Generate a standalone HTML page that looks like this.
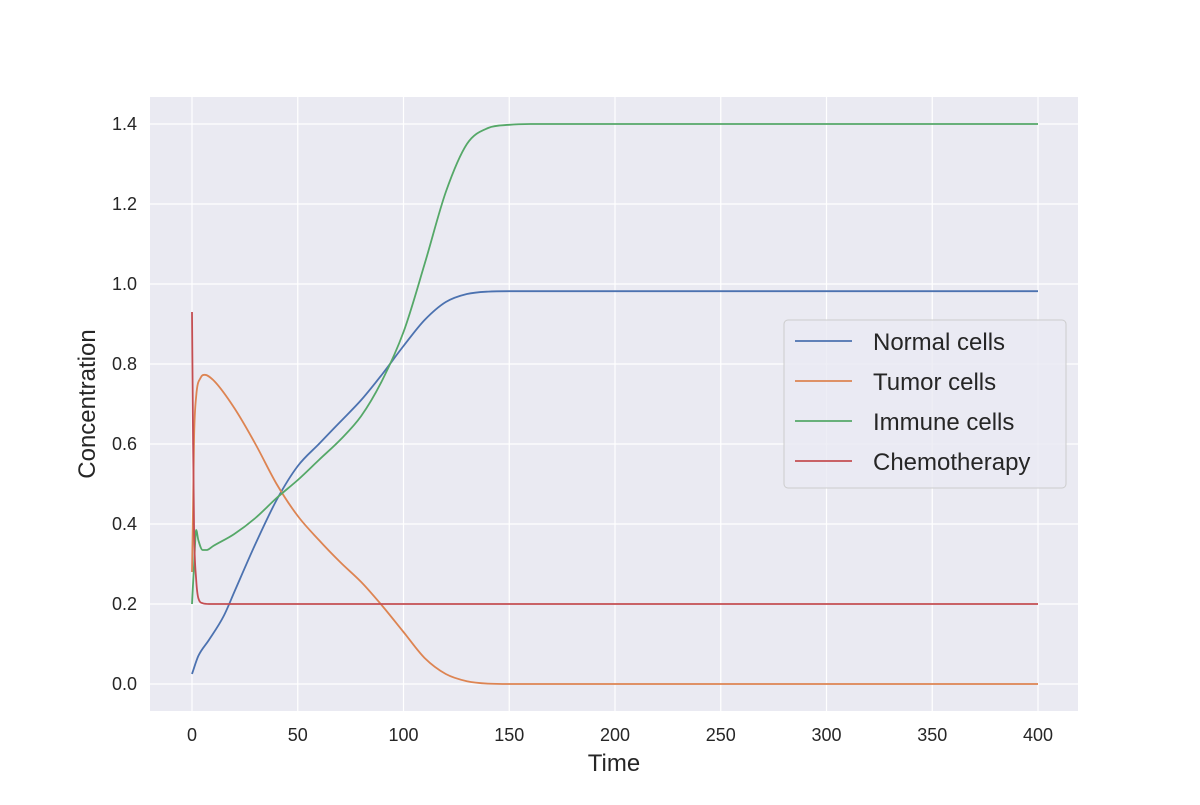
<!DOCTYPE html>
<html><head><meta charset="utf-8"><style>
body{margin:0;background:#fff}
text{font-family:"Liberation Sans","DejaVu Sans",sans-serif;fill:#262626}
</style></head><body>
<svg id="chart" width="1200" height="800">
<rect x="150" y="97" width="928" height="614" fill="#eaeaf2"/>
<g id="grid"></g><g id="series"></g><g id="ticks"></g>
<text x="614" y="771" font-size="24" text-anchor="middle">Time</text>
<text transform="translate(95,404) rotate(-90)" font-size="24" text-anchor="middle">Concentration</text>
<g>
<rect x="784" y="320" width="282" height="168" rx="4" fill="#eaeaf2" fill-opacity="0.8" stroke="#cccccc"/>
<g id="legend"></g>
</g>
</svg>
<script>
const xTicks=[0,50,100,150,200,250,300,350,400];
const yTicks=[0.0,0.2,0.4,0.6,0.8,1.0,1.2,1.4];
const names=["Normal cells","Tumor cells","Immune cells","Chemotherapy"];
const colors=["#4c72b0","#dd8452","#55a868","#c44e52"];
const normalT=[0,3,8,15,20,30,40,50,60,70,80,90,100,110,120,130,140,150,400];
const normalV=[0.025,0.07,0.11,0.17,0.23,0.35,0.46,0.545,0.60,0.655,0.71,0.775,0.845,0.91,0.955,0.975,0.981,0.982,0.982];
const tumorT=[0,0.5,1,2,4,6,10,20,30,40,50,60,70,80,90,100,110,120,130,140,150,400];
const tumorV=[0.28,0.45,0.62,0.72,0.765,0.773,0.76,0.69,0.60,0.50,0.42,0.36,0.305,0.255,0.195,0.13,0.065,0.025,0.007,0.001,0,0];
const immuneT=[0,1,2,3,5,7,10,20,30,40,50,60,70,80,90,100,110,120,130,140,150,160,400];
const immuneV=[0.2,0.3,0.385,0.36,0.335,0.335,0.345,0.375,0.415,0.465,0.51,0.56,0.61,0.67,0.76,0.88,1.05,1.23,1.35,1.39,1.398,1.4,1.4];
const chemoT=[0,0.5,1,2,3,5,8,400];
const chemoV=[0.93,0.6,0.38,0.26,0.215,0.202,0.2,0.2];
const X=t=>192+t*(1038-192)/400;
const Y=v=>684-v*400;
const NS="http://www.w3.org/2000/svg";
function mk(tag,attrs,parent){const e=document.createElementNS(NS,tag);for(const k in attrs)e.setAttribute(k,attrs[k]);parent.appendChild(e);return e;}
function monoPath(xs,ys){
 const n=xs.length,d=[],m=[];
 for(let i=0;i<n-1;i++)d.push((ys[i+1]-ys[i])/(xs[i+1]-xs[i]));
 m[0]=d[0];m[n-1]=d[n-2];
 for(let i=1;i<n-1;i++){m[i]=(d[i-1]*d[i]<=0)?0:(d[i-1]+d[i])/2;}
 for(let i=0;i<n-1;i++){if(d[i]===0){m[i]=0;m[i+1]=0;continue;}const a=m[i]/d[i],b=m[i+1]/d[i],s=a*a+b*b;if(s>9){const t=3/Math.sqrt(s);m[i]=t*a*d[i];m[i+1]=t*b*d[i];}}
 let p='M'+xs[0].toFixed(1)+','+ys[0].toFixed(1);
 for(let i=0;i<n-1;i++){const h=(xs[i+1]-xs[i])/3;
  p+=' C'+(xs[i]+h).toFixed(1)+','+(ys[i]+m[i]*h).toFixed(1)+' '+(xs[i+1]-h).toFixed(1)+','+(ys[i+1]-m[i+1]*h).toFixed(1)+' '+xs[i+1].toFixed(1)+','+ys[i+1].toFixed(1);}
 return p;
}
const grid=document.getElementById('grid'),ticks=document.getElementById('ticks'),ser=document.getElementById('series'),leg=document.getElementById('legend');
xTicks.forEach(t=>{
 const l=mk('line',{x1:X(t),x2:X(t),y1:97,y2:711,stroke:'#fff','stroke-width':1.2},grid);
 
 
 const tx=mk('text',{x:X(t),y:741,'font-size':18,'text-anchor':'middle'},ticks);tx.textContent=t;
 
 
});
yTicks.forEach(v=>{
 const l=mk('line',{x1:150,x2:1078,y1:Y(v),y2:Y(v),stroke:'#fff','stroke-width':1.2},grid);
 
 
 const tx=mk('text',{x:137,y:Y(v)+6,'font-size':18,'text-anchor':'end'},ticks);tx.textContent=v.toFixed(1);
 
 
});
const data=[[normalT,normalV],[tumorT,tumorV],[immuneT,immuneV],[chemoT,chemoV]];
data.forEach((d,i)=>{
 const p=mk('path',{d:monoPath(d[0].map(X),d[1].map(Y)),fill:'none',stroke:colors[i],'stroke-width':1.8,'stroke-linejoin':'round'},ser);
 
 
 const y=341+i*40;
 const ll=mk('line',{x1:795,x2:852,y1:y,y2:y,stroke:colors[i],'stroke-width':1.8},leg);
 
 
 const lt=mk('text',{x:873,y:y+9,'font-size':24},leg);lt.textContent=names[i];
 
 
});
</script>
</body></html>
